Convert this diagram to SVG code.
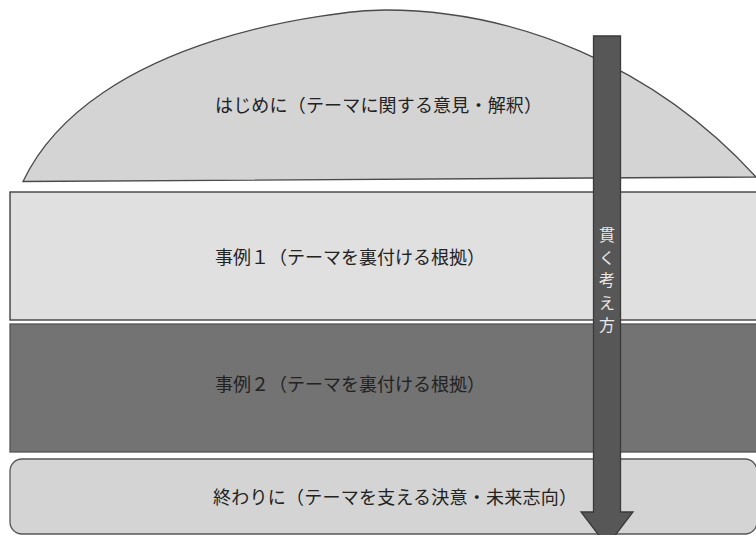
<svg xmlns="http://www.w3.org/2000/svg" width="756" height="535" viewBox="0 0 756 535">
<style>
.lbl{font-family:"Noto Sans CJK JP","Noto Sans",sans-serif;font-size:18px;fill:#222}
.vlbl{font-family:"Noto Sans CJK JP","Noto Sans",sans-serif;font-size:16px;fill:#e8e8e8;text-anchor:middle}
</style>
<rect width="756" height="535" fill="#ffffff"/>
<g id="intro">
<path d="M23,181.5 C93,34 344,10 385,10 C513,10 653,64 756,177 Z" fill="#d4d4d4" stroke="#4a4a4a" stroke-width="1.3"/>
<text class="lbl" x="215" y="112" textLength="327" lengthAdjust="spacing">はじめに（テーマに関する意見・解釈）</text>
</g>
<g id="case1">
<rect x="10" y="192" width="760" height="128" fill="#e0e0e0" stroke="#333" stroke-width="1.3"/>
<text class="lbl" x="215" y="264" textLength="270" lengthAdjust="spacing">事例１（テーマを裏付ける根拠）</text>
</g>
<g id="case2">
<rect x="10" y="324" width="760" height="128" fill="#737373" stroke="#555" stroke-width="1.3"/>
<text class="lbl" x="215" y="391" textLength="270" lengthAdjust="spacing">事例２（テーマを裏付ける根拠）</text>
</g>
<g id="conclusion">
<rect x="10" y="459" width="747" height="75" rx="12" ry="12" fill="#d4d4d4" stroke="#555" stroke-width="1.3"/>
<text class="lbl" x="213" y="504" textLength="364" lengthAdjust="spacing">終わりに（テーマを支える決意・未来志向）</text>
</g>
<g id="connectors">
<path d="M593.5,36 L620.5,36 L620.5,512 L633,512 L607,546 L581,512 L593.5,512 Z" fill="#575757" stroke="#3a3a3a" stroke-width="1.3"/>
<text class="vlbl"><tspan x="607" y="241">貫</tspan><tspan x="607" y="263.5">く</tspan><tspan x="607" y="286">考</tspan><tspan x="607" y="308.5">え</tspan><tspan x="607" y="331">方</tspan></text>
</g>
</svg>
